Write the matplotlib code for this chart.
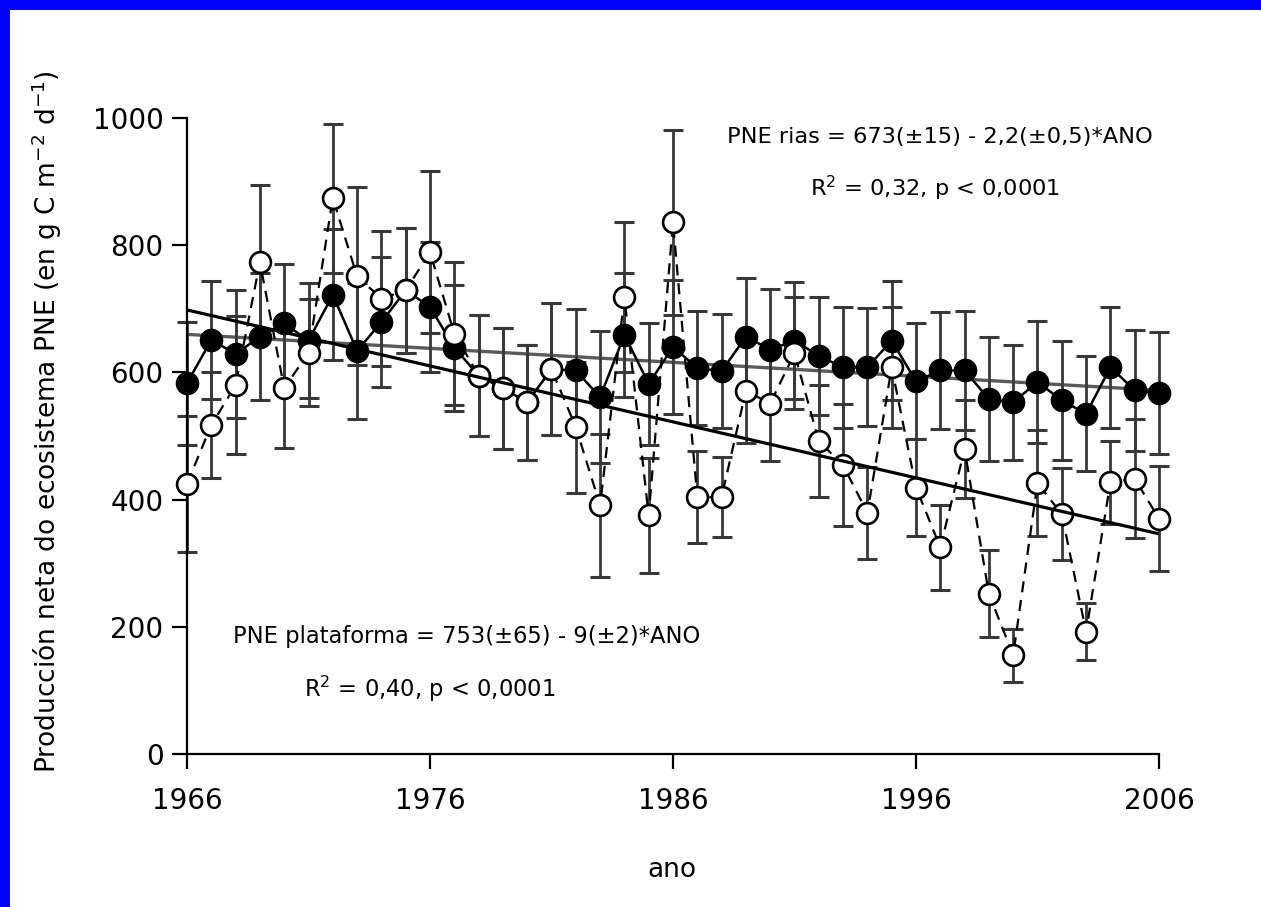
import matplotlib
matplotlib.use('Agg')
import matplotlib.pyplot as plt
import numpy as np
from matplotlib.patches import Rectangle

plt.rcParams.update({
    'font.family': 'DejaVu Sans',
    'mathtext.fontset': 'dejavusans',
    'xtick.direction': 'out',
    'ytick.direction': 'out',
    'axes.linewidth': 1.6,
})

# ================= data =================
years = np.arange(1966, 2007)

# PNE rias (filled circles, solid line)
rias = [583, 651, 629, 656, 677, 650, 722, 634, 679, 729,
        703, 639, 595, 575, 553, 605, 603, 561, 659, 582,
        640, 607, 602, 656, 636, 650, 626, 608, 608, 650,
        586, 603, 603, 558, 553, 585, 556, 535, 608, 572, 567]
rias_err = [97, 93, 100, 100, 94, 91, 103, 107, 102, 98,
            102, 99, 95, 95, 90, 104, 97, 104, 98, 96,
            105, 90, 90, 92, 95, 92, 93, 95, 93, 94,
            91, 92, 93, 98, 90, 96, 94, 90, 95, 95, 96]

# PNE plataforma (open circles, dashed line)
plat = [425, 517, 580, 773, 575, 631, 874, 751, 716, 729,
        789, 661, 595, 575, 553, 605, 514, 391, 718, 375,
        836, 404, 404, 571, 551, 630, 492, 454, 379, 608,
        419, 325, 479, 252, 155, 426, 377, 192, 427, 433, 370]
plat_err = [107, 83, 108, 122, 94, 84, 117, 140, 106, 98,
            127, 112, 95, 95, 90, 104, 103, 112, 118, 91,
            145, 72, 63, 82, 90, 88, 88, 96, 72, 95,
            77, 67, 77, 68, 42, 84, 72, 45, 65, 93, 83]

# regressions, ANO = year - 1960
rias_fit = (673, -2.2)
plat_fit = (751, -8.8)

xticks = [1966, 1976, 1986, 1996, 2006]
yticks = [0, 200, 400, 600, 800, 1000]

# ================= figure =================
fig = plt.figure(figsize=(12.61, 9.07), dpi=100, facecolor='white')
ax = fig.add_axes([0.1483, 0.1687, 0.7708, 0.7012])

fit_x = np.array([years[0], years[-1]])
ax.plot(fit_x, rias_fit[0] + rias_fit[1] * (fit_x - 1960),
        color='#5a5a5a', lw=2.4, zorder=1)

bar_kw = dict(fmt='none', ecolor='#383838', elinewidth=2.0, capsize=7.2, capthick=2.2)
eb1 = ax.errorbar(years, rias, yerr=rias_err, zorder=2, **bar_kw)
eb2 = ax.errorbar(years, plat, yerr=plat_err, zorder=2, **bar_kw)
for eb in (eb1, eb2):
    for art in eb.lines[1] + eb.lines[2]:
        art.set_clip_on(False)

ax.plot(years, rias, '-', color='black', lw=1.8, marker='o', ms=16,
        mfc='black', mec='black', zorder=3, clip_on=False)
ax.plot(years, plat, color='black', lw=1.6, ls=(0, (5, 3.5)), marker='o', ms=15,
        mfc='white', mec='black', mew=1.9, zorder=4, clip_on=False)

ax.plot(fit_x, plat_fit[0] + plat_fit[1] * (fit_x - 1960),
        color='black', lw=2.3, zorder=5)

ax.set_xlim(1966, 2006)
ax.set_ylim(0, 1000)
ax.set_xticks(xticks)
ax.set_yticks(yticks)
ax.spines['top'].set_visible(False)
ax.spines['right'].set_visible(False)
ax.tick_params(axis='both', length=11, width=1.6, labelsize=20)
ax.tick_params(axis='x', pad=13)
ax.tick_params(axis='y', pad=6)

ax.text(1997.0, 970, 'PNE rias = 673(±15) - 2,2(±0,5)*ANO',
        ha='center', va='center', fontsize=16.2)
ax.text(1996.8, 890, 'R$^{2}$ = 0,32, p < 0,0001',
        ha='center', va='center', fontsize=16.2)
ax.text(1977.5, 184, 'PNE plataforma = 753(±65) - 9(±2)*ANO',
        ha='center', va='center', fontsize=16.3)
ax.text(1976.0, 102, 'R$^{2}$ = 0,40, p < 0,0001',
        ha='center', va='center', fontsize=16.3)

fig.text(47 / 1261, 1 - 422 / 907,
         'Producción neta do ecosistema PNE (en g C m$^{-2}$ d$^{-1}$)',
         rotation=90, ha='center', va='center', fontsize=19)
fig.text(672 / 1261, 1 - 870 / 907, 'ano', ha='center', va='center', fontsize=19)

# blue slide frame
fig.patches.append(Rectangle((0, 1 - 10 / 907), 1, 10 / 907, transform=fig.transFigure,
                             facecolor='#0000ff', edgecolor='none'))
fig.patches.append(Rectangle((0, 0), 10 / 1261, 1, transform=fig.transFigure,
                             facecolor='#0000ff', edgecolor='none'))

fig.savefig('out.png', dpi=100, facecolor='white')
